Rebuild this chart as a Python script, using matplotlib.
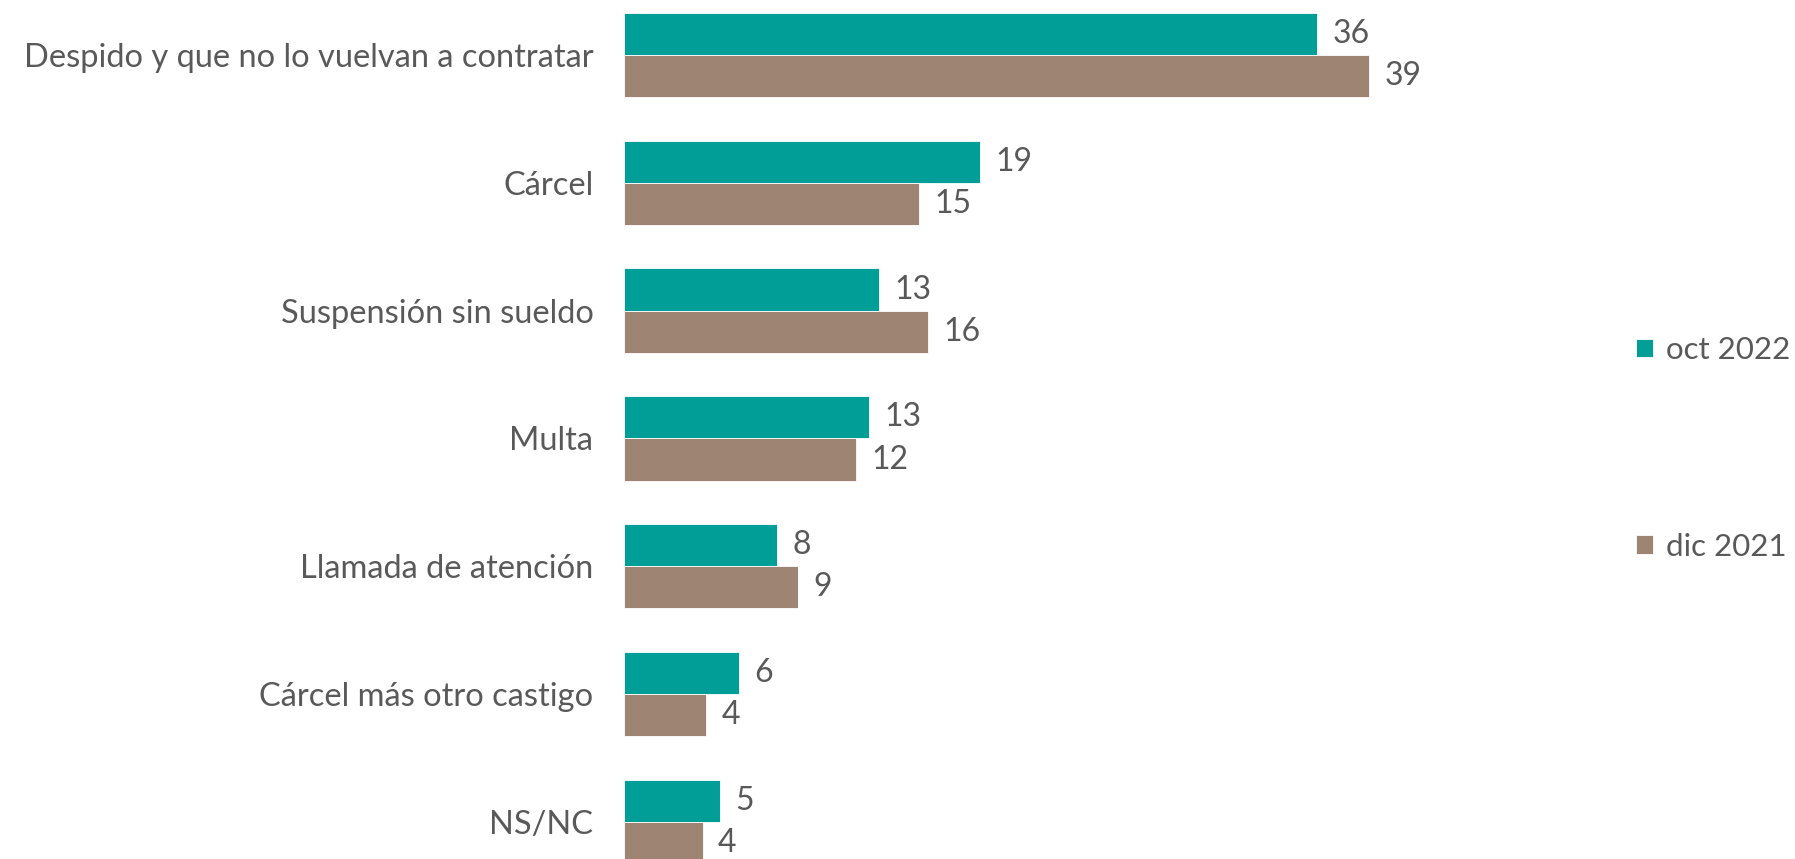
import matplotlib
matplotlib.use('Agg')
import matplotlib.pyplot as plt
import numpy as np

categories = ['Despido y que no lo vuelvan a contratar', 'Cárcel', 'Suspensión sin sueldo',
              'Multa', 'Llamada de atención', 'Cárcel más otro castigo', 'NS/NC']
oct_2022 = [36.2, 18.6, 13.3, 12.8, 8.0, 6.0, 5.0]
dic_2021 = [38.9, 15.4, 15.9, 12.1, 9.1, 4.3, 4.1]
series_names = ['oct 2022', 'dic 2021']

TEAL = '#009E96'
BROWN = '#9E8573'
TEXT = '#595959'
FS = 23.5

plt.rcParams['font.family'] = ['Lato', 'DejaVu Sans']

fig = plt.figure(figsize=(17.95, 8.59), dpi=100)
ax = fig.add_axes([624 / 1795, 0, 896 / 1795, 1])

y = np.arange(len(categories))
h = 0.33
b1 = ax.barh(y - h / 2, oct_2022, height=h, color=TEAL, edgecolor='white', linewidth=0.6, label=series_names[0])
b2 = ax.barh(y + h / 2, dic_2021, height=h, color=BROWN, edgecolor='white', linewidth=0.6, label=series_names[1])

for bars, vals in ((b1, oct_2022), (b2, dic_2021)):
    for rect, v in zip(bars, vals):
        ax.annotate('{:.0f}'.format(v), (rect.get_width(), rect.get_y() + rect.get_height() / 2),
                    xytext=(11, 0), textcoords='offset points', va='center', ha='left',
                    fontsize=FS - 0.5, color=TEXT)

ax.set_xlim(0, 896 / 19.15)
ax.set_ylim(6.29, -0.43)
ax.set_yticks(y)
ax.set_yticklabels(categories, fontsize=FS, color=TEXT)
ax.tick_params(axis='y', length=0, pad=22)
ax.set_xticks([])
for s in ax.spines.values():
    s.set_visible(False)

fig.legend(handles=[b1, b2], loc='center left', bbox_to_anchor=(1636 / 1795, 0.478),
           frameon=False, fontsize=22.5, labelcolor=TEXT, handlelength=0.55, handleheight=0.55,
           handletextpad=0.4, labelspacing=5.4, borderaxespad=0, borderpad=0)

fig.savefig('out.png', dpi=100)
